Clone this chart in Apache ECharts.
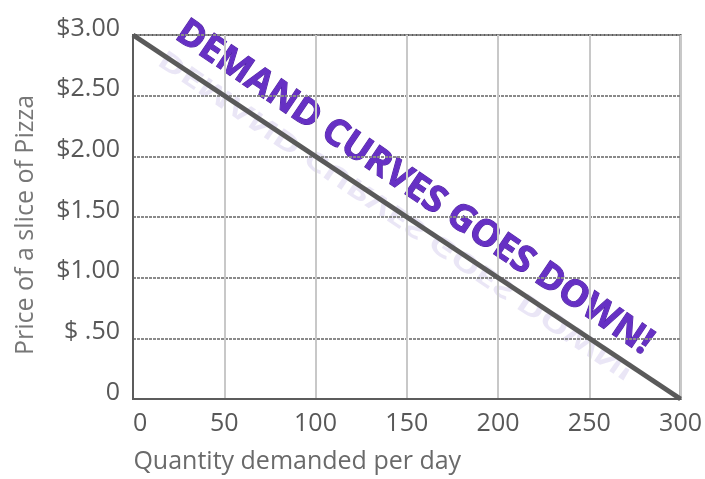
<!DOCTYPE html>
<html>
<head>
<meta charset="utf-8">
<script src="https://cdn.jsdelivr.net/npm/echarts@6/dist/echarts.min.js"></script>
<style>
  html, body { margin: 0; padding: 0; background: #fff; }
  #chart { width: 705px; height: 479px; }
</style>
</head>
<body>
<div id="chart"></div>
<script>
// Demand schedule for pizza slices
const quantities = [0, 300];
const prices = [3.0, 0];
const xTicks = [0, 50, 100, 150, 200, 250, 300];
const yTickLabels = ['0', '$ .50', '$1.00', '$1.50', '$2.00', '$2.50', '$3.00'];
const xAxisTitle = 'Quantity demanded per day';
const yAxisTitle = 'Price of a slice of Pizza';
const banner = 'DEMAND CURVES GOES DOWN!';

const labelFont = '"Open Sans", "Noto Sans", sans-serif';
const chart = echarts.init(document.getElementById('chart'));

const bannerStyle = {
  text: banner,
  font: 'bold 37px "Open Sans", sans-serif',
  align: 'center',
  verticalAlign: 'bottom'
};

chart.setOption({
  animation: false,
  grid: {
    left: 133, right: 20, top: 35, bottom: 79,
    show: true, borderColor: '#5c5c5c', borderWidth: 2, backgroundColor: '#fff'
  },
  xAxis: {
    type: 'value', min: xTicks[0], max: xTicks[xTicks.length - 1], interval: 50,
    name: xAxisTitle, nameLocation: 'middle', nameGap: 50,
    nameTextStyle: { fontFamily: labelFont, fontSize: 25, color: '#6a6a6a', padding: [0, 219, 0, 0] },
    axisLine: { lineStyle: { color: '#5c5c5c', width: 2 } },
    axisTick: { show: false },
    axisLabel: { fontFamily: labelFont, fontSize: 25, color: '#585858', margin: 12, alignMinLabel: 'left' },
    splitLine: { lineStyle: { color: '#c8c8c8', width: 2 } }
  },
  yAxis: {
    type: 'value', min: 0, max: 3, interval: 0.5,
    name: yAxisTitle, nameLocation: 'middle', nameGap: 95, nameRotate: 90,
    nameTextStyle: { fontFamily: labelFont, fontSize: 25, color: '#777', padding: [0, 16, 0, 0] },
    axisLine: { lineStyle: { color: '#5c5c5c', width: 2 } },
    axisTick: { show: false },
    axisLabel: {
      fontFamily: labelFont, fontSize: 25, color: '#585858', margin: 13,
      verticalAlign: 'bottom', lineHeight: 13,
      formatter: v => yTickLabels[Math.round(v / 0.5)]
    },
    splitLine: { lineStyle: { color: '#8a8a8a', width: 2, type: [3, 1] } }
  },
  series: [{
    type: 'line',
    data: quantities.map((q, i) => [q, prices[i]]),
    symbol: 'none',
    lineStyle: { color: '#5a5a5a', width: 5 },
    z: 3
  }],
  graphic: [{
    type: 'group',
    x: 404, y: 203,
    rotation: -0.595,
    z: 10,
    children: [
      {
        // faded mirror of the banner
        type: 'text', x: 0, y: 0, scaleY: -0.7,
        style: Object.assign({}, bannerStyle, { fill: 'rgba(195,182,228,0.35)' })
      },
      {
        type: 'text', x: 0, y: 0,
        style: Object.assign({}, bannerStyle, { fill: '#6630c4', stroke: '#4b1e9c', lineWidth: 1 })
      }
    ]
  }]
});
</script>
</body>
</html>
